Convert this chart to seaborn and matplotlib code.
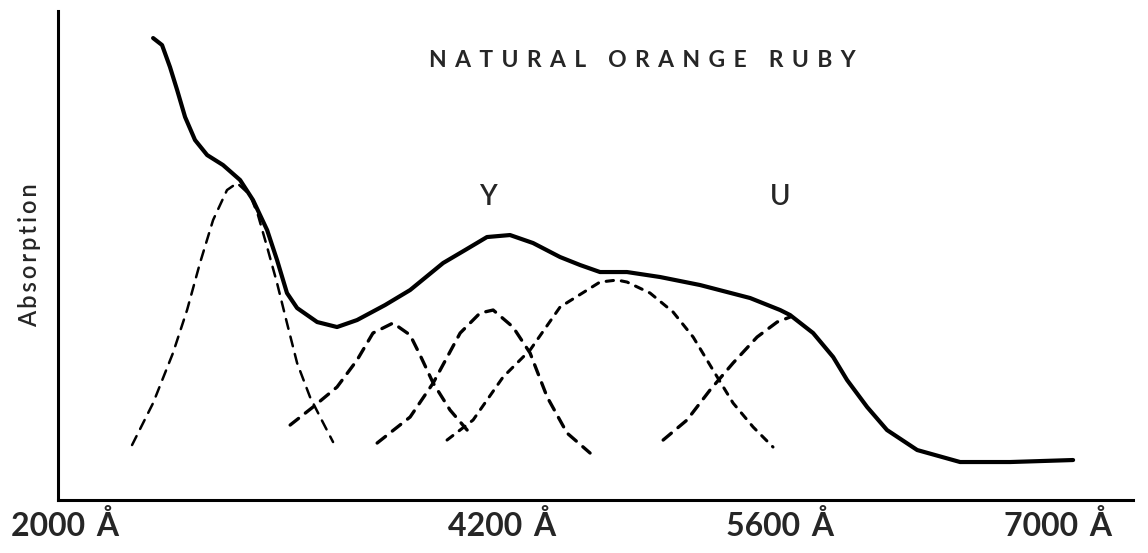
import matplotlib
matplotlib.use("Agg")
import matplotlib.pyplot as plt
import seaborn as sns
import pandas as pd

# ---- data (wavelength in Å, absorption in arbitrary units) ----
total_wl = [2443, 2488, 2528, 2564, 2604, 2654, 2715, 2795, 2881, 2946, 3017, 3067,
            3117, 3168, 3269, 3369, 3470, 3611, 3737, 3903, 4014, 4124, 4240, 4356,
            4492, 4593, 4693, 4829, 4996, 5197, 5449, 5600, 5650, 5766, 5867, 5937,
            6038, 6138, 6290, 6506, 6758, 7075]
total_abs = [462, 455, 433, 410, 383, 360, 345, 335, 320, 300, 270, 240,
             207, 192, 178, 173, 180, 195, 210, 237, 250, 263, 265, 257,
             243, 235, 228, 228, 223, 215, 202, 190, 185, 167, 143, 120,
             93, 70, 50, 38, 38, 40]

band1_wl = [2337, 2443, 2543, 2614, 2679, 2745, 2815, 2866, 2931, 2971, 3017, 3067,
            3117, 3168, 3233, 3284, 3349]
band1_abs = [55, 97, 147, 190, 237, 280, 310, 317, 305, 285, 253, 217,
             177, 137, 103, 83, 58]

band2_wl = [3133, 3248, 3369, 3470, 3550, 3651, 3737, 3787, 3853, 3938, 4024]
band2_abs = [75, 93, 113, 140, 167, 177, 165, 145, 117, 90, 70]

band3_wl = [3571, 3737, 3853, 3989, 4089, 4155, 4255, 4341, 4427, 4527, 4643]
band3_abs = [57, 83, 117, 167, 187, 190, 173, 147, 103, 67, 47]

band4_wl = [3923, 4054, 4205, 4341, 4492, 4693, 4779, 4829, 4945, 5061, 5162,
            5262, 5363, 5464, 5564]
band4_abs = [60, 80, 123, 150, 193, 218, 220, 218, 207, 188, 163,
             130, 97, 73, 53]

band5_wl = [5011, 5131, 5247, 5363, 5484, 5585, 5650]
band5_abs = [60, 80, 110, 137, 163, 178, 183]

tick_values = [2000, 4200, 5600, 7000]
tick_labels = ["2000 Å", "4200 Å", "5600 Å", "7000 Å"]

title_text = "NATURAL ORANGE RUBY"
y_label = "Absorption"
band_labels = ["Y", "U"]
band_label_wl = [4130, 5600]
band_label_y = [303, 303]


def spaced(s, sep="\u2009"):
    return sep.join(list(s))


# ---- style ----
sns.set_style("white")
plt.rcParams['font.family'] = ['Lato', 'DejaVu Sans']

fig = plt.figure(figsize=(11.48, 5.53), dpi=100)
ax = fig.add_axes([0.0505, 0.0958, 0.9365, 0.8842])


def draw(wl, ab, lw, dashes=None):
    df = pd.DataFrame({"wl": wl, "ab": ab})
    sns.lineplot(data=df, x="wl", y="ab", sort=False, estimator=None,
                 color="black", ax=ax, linewidth=lw)
    ln = ax.lines[-1]
    ln.set_solid_joinstyle("round")
    ln.set_solid_capstyle("round")
    if dashes is not None:
        ln.set_dashes(dashes)
        ln.set_dash_capstyle("round")


draw(total_wl, total_abs, 3.0)
draw(band1_wl, band1_abs, 1.8, [4, 3.2])
draw(band2_wl, band2_abs, 2.4, [3.2, 2.6])
draw(band3_wl, band3_abs, 2.4, [3.2, 2.6])
draw(band4_wl, band4_abs, 2.2, [2.4, 2.6])
draw(band5_wl, band5_abs, 2.4, [3.2, 2.6])

ax.set_xlim(1964, 7377)
ax.set_ylim(0, 489)

for s in ["top", "right"]:
    ax.spines[s].set_visible(False)
for s in ["left", "bottom"]:
    ax.spines[s].set_linewidth(2.2)
    ax.spines[s].set_color("black")

ax.set_xticks(tick_values)
ax.set_xticklabels([t.replace(" ", " \u2009") for t in tick_labels],
                   fontsize=23, fontweight="bold")
ax.set_yticks([])
ax.tick_params(axis="x", length=0, pad=7)
ax.set_xlabel("")
ax.set_ylabel(spaced(y_label), fontsize=17, fontweight="semibold", labelpad=12)

title = "    ".join(spaced(w, " \u2009") for w in title_text.split(" "))
ax.text(4905, 440, title, ha="center", va="center", fontsize=16.5, fontweight="bold")
for lab, x, y in zip(band_labels, band_label_wl, band_label_y):
    ax.text(x, y, lab, ha="center", va="center", fontsize=20, fontweight="semibold")

fig.savefig("out.png", dpi=100, facecolor="white")
